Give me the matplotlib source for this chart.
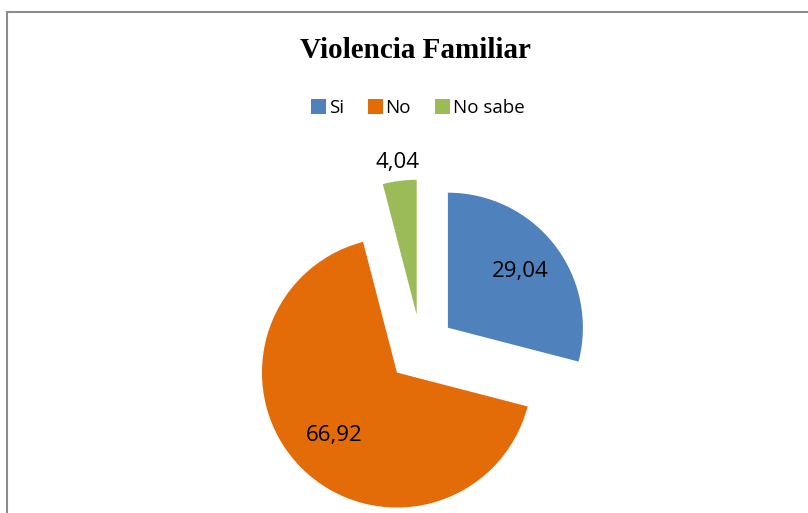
import matplotlib
matplotlib.use("Agg")
import matplotlib.pyplot as plt
import numpy as np
from matplotlib.patches import Rectangle

# ── Data ───────────────────────────────────────────────────────────
categories = ["Si", "No", "No sabe"]
values = [29.04, 66.92, 4.04]
colors = ["#4F81BD", "#E36C09", "#9BBB59"]
label_dist = [0.68, 0.66, 1.14]  # label radius as a fraction of slice radius

W, H = 808, 513
fig = plt.figure(figsize=(W / 100, H / 100), dpi=100)
ax = fig.add_axes([0, 0, 1, 1])

# chart frame (cropped on the right and bottom, like the source)
fig.patches.append(Rectangle((7 / W, -0.1), 1.2, (H - 12) / H + 0.1,
                             transform=fig.transFigure, fill=False,
                             edgecolor="#8c8c8c", linewidth=1.5))

cx, cy, r = 421, H - 348.5, 135
wedges, _ = ax.pie(values, colors=colors, center=(cx, cy), radius=r,
                   explode=[34] * len(values), startangle=90,
                   counterclock=False, wedgeprops=dict(linewidth=0))

for w, v, d in zip(wedges, values, label_dist):
    mid = np.deg2rad((w.theta1 + w.theta2) / 2)
    x0, y0 = w.center
    ax.text(x0 + d * r * np.cos(mid), y0 + d * r * np.sin(mid),
            f"{v:.2f}".replace(".", ","), ha="center", va="center",
            fontsize=16, family="Open Sans", color="black")

ax.set_xlim(0, W)
ax.set_ylim(0, H)
ax.set_aspect("equal")
ax.axis("off")

fig.text(415 / W, 1 - 50 / H, "Violencia Familiar", ha="center", va="center",
         fontsize=21, fontweight="bold", family="Liberation Serif")

leg = fig.legend(wedges, categories, loc="center", bbox_to_anchor=(418 / W, 1 - 108 / H),
                 ncol=3, frameon=False, handlelength=0.78, handleheight=0.78,
                 handletextpad=0.15, columnspacing=1.3,
                 prop=dict(family="Open Sans", size=13.5))

fig.savefig("out.png", dpi=100)
